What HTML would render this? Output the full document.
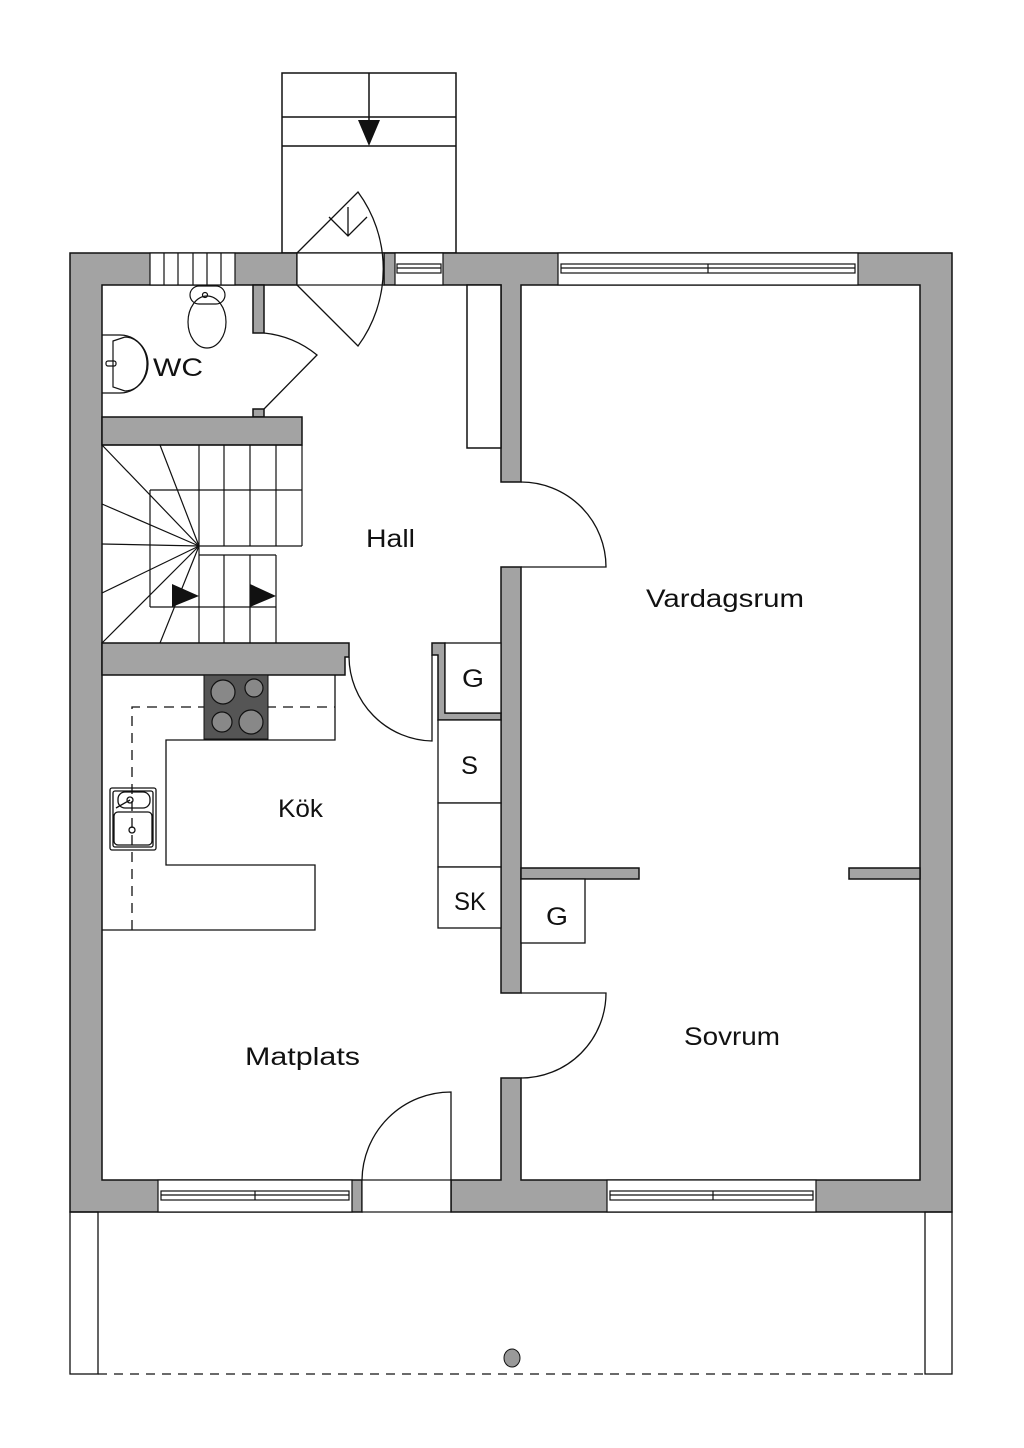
<!DOCTYPE html>
<html><head><meta charset="utf-8"><style>html,body{margin:0;padding:0;background:#fff}svg{display:block}text{font-family:"Liberation Sans",sans-serif;fill:#111}</style></head>
<body>
<svg width="1024" height="1448" viewBox="0 0 1024 1448" xmlns="http://www.w3.org/2000/svg">
<rect width="1024" height="1448" fill="#fff"/>
<g fill="none" stroke="#111" stroke-width="1.5">
<rect x="282" y="73" width="174" height="180"/>
<line x1="282" y1="117" x2="456" y2="117"/>
<line x1="282" y1="146" x2="456" y2="146"/>
<line x1="369" y1="73" x2="369" y2="120"/>
</g>
<polygon points="358,120 380,120 369,146" fill="#111"/>
<g fill="#a3a3a3" stroke="#111" stroke-width="1.5">
<path d="M70,253 H297 V285 H102 V1180 H362 V1212 H70 Z"/>
<path d="M384,253 H952 V1212 H451 V1180 H501 V1078 H521 V1180 H920 V285 H521 V482 H501 V285 H384 Z"/>
<rect x="501" y="567" width="20" height="426"/>
<rect x="253" y="285" width="11" height="48"/>
<rect x="253" y="409" width="11" height="8"/>
<path d="M102,417 H302 V445 H102 Z"/>
<path d="M102,643 H349 V657 H345 V675 H102 Z"/>
<path d="M432,643 H445 V713 H501 V720 H438 V655 H432 Z"/>
<rect x="521" y="868" width="118" height="11"/>
<rect x="849" y="868" width="71" height="11"/>
</g>
<g fill="#fff" stroke="#111" stroke-width="1.2">
<rect x="150" y="253" width="85" height="32"/>
<line x1="164" y1="253" x2="164" y2="285"/><line x1="178" y1="253" x2="178" y2="285"/><line x1="193" y1="253" x2="193" y2="285"/><line x1="207" y1="253" x2="207" y2="285"/><line x1="221" y1="253" x2="221" y2="285"/>
<rect x="395" y="253" width="48" height="32"/>
<rect x="397" y="264" width="44" height="9"/><line x1="397" y1="268" x2="441" y2="268"/>
<rect x="558" y="253" width="300" height="32"/>
<rect x="561" y="264" width="294" height="9"/><line x1="561" y1="268" x2="855" y2="268"/><line x1="708" y1="264" x2="708" y2="273"/>
<rect x="158" y="1180" width="194" height="32"/>
<rect x="161" y="1191" width="188" height="9"/><line x1="161" y1="1195" x2="349" y2="1195"/><line x1="255" y1="1191" x2="255" y2="1200"/>
<rect x="607" y="1180" width="209" height="32"/>
<rect x="610" y="1191" width="203" height="9"/><line x1="610" y1="1195" x2="813" y2="1195"/><line x1="713" y1="1191" x2="713" y2="1200"/>
<rect x="297" y="253" width="87" height="32"/>
<rect x="362" y="1180" width="89" height="32"/>
</g>
<g fill="none" stroke="#111" stroke-width="1.3">
<path d="M297,253 L358,192 A130,130 0 0 1 358,346 L297,285"/>
<path d="M329,217 L348,236 L367,217 M348,236 L348,207"/>
<path d="M264,333 A100,100 0 0 1 317,355 L264,409"/>
<path d="M521,482 A85,85 0 0 1 606,567 H521"/>
<path d="M349,657 A85,85 0 0 0 432,741 V655"/>
<path d="M521,993 H606 A85,85 0 0 1 521,1078"/>
<path d="M362,1180 A89,89 0 0 1 451,1092 V1212"/>
</g>
<g fill="none" stroke="#111" stroke-width="1.2">
<rect x="190" y="286" width="35" height="18" rx="9"/>
<ellipse cx="207" cy="322" rx="19" ry="26"/>
<path d="M102,335 H120 A28,29 0 0 1 120,393 H102"/>
<path d="M113,341 L125,337 A22,27 0 0 1 125,391 L113,387 Z"/>
<rect x="106" y="361" width="10" height="5" rx="2"/>
<circle cx="205" cy="295" r="2.5"/>
</g>
<g fill="none" stroke="#111" stroke-width="1.2">
<line x1="102" y1="445" x2="302" y2="445"/>
<line x1="150" y1="490" x2="302" y2="490"/>
<line x1="150" y1="490" x2="150" y2="607"/>
<line x1="150" y1="607" x2="276" y2="607"/>
<line x1="199" y1="445" x2="199" y2="643"/>
<line x1="224" y1="445" x2="224" y2="546"/><line x1="250" y1="445" x2="250" y2="546"/><line x1="276" y1="445" x2="276" y2="546"/><line x1="302" y1="445" x2="302" y2="546"/>
<line x1="199" y1="546" x2="302" y2="546"/>
<line x1="199" y1="555" x2="276" y2="555"/>
<line x1="276" y1="555" x2="276" y2="643"/><line x1="250" y1="555" x2="250" y2="643"/><line x1="224" y1="555" x2="224" y2="643"/>
<line x1="102" y1="445" x2="199" y2="546"/>
<line x1="160" y1="445" x2="199" y2="546"/>
<line x1="102" y1="504" x2="199" y2="546"/>
<line x1="102" y1="544" x2="199" y2="546"/>
<line x1="102" y1="593" x2="199" y2="546"/>
<line x1="102" y1="643" x2="199" y2="546"/>
<line x1="160" y1="643" x2="199" y2="546"/>
</g>
<polygon points="172,584 172,607 199,596" fill="#111"/>
<polygon points="250,584 250,607 276,596" fill="#111"/>
<rect x="467" y="285" width="34" height="163" fill="#fff" stroke="#111" stroke-width="1.5"/>
<g fill="none" stroke="#111" stroke-width="1.3">
<path d="M335,675 V740 H166 V865 H315 V930 H102"/>
<path d="M132,930 V707 H335" stroke-dasharray="10,7"/>
<rect x="110" y="788" width="46" height="62" rx="2"/>
<rect x="113" y="791" width="40" height="56" rx="2"/>
<rect x="118" y="792" width="32" height="16" rx="7"/>
<rect x="114" y="812" width="38" height="33" rx="4"/>
<circle cx="132" cy="830" r="3"/><circle cx="130" cy="800" r="3"/>
<line x1="130" y1="800" x2="116" y2="808"/>
</g>
<rect x="204" y="675" width="64" height="64" fill="#555" stroke="#111"/>
<g fill="#888" stroke="#111" stroke-width="1.2">
<circle cx="223" cy="692" r="12"/><circle cx="254" cy="688" r="9"/>
<circle cx="222" cy="722" r="10"/><circle cx="251" cy="722" r="12"/>
</g>
<g fill="#fff" stroke="#111" stroke-width="1.3">
<rect x="445" y="643" width="56" height="70"/>
<rect x="438" y="720" width="63" height="83"/>
<rect x="438" y="803" width="63" height="64"/>
<rect x="438" y="867" width="63" height="61"/>
<rect x="521" y="879" width="64" height="64"/>
</g>
<g fill="none" stroke="#111" stroke-width="1.3">
<rect x="70" y="1212" width="28" height="162"/>
<rect x="925" y="1212" width="27" height="162"/>
<line x1="98" y1="1374" x2="925" y2="1374" stroke-dasharray="9,7"/>
</g>
<ellipse cx="512" cy="1358" rx="8" ry="9" fill="#999" stroke="#111"/>
<g font-size="25">
<text x="153" y="376" textLength="50" lengthAdjust="spacingAndGlyphs">WC</text>
<text x="366" y="547" textLength="49" lengthAdjust="spacingAndGlyphs">Hall</text>
<text x="646" y="607" textLength="158" lengthAdjust="spacingAndGlyphs">Vardagsrum</text>
<text x="278" y="817" textLength="45" lengthAdjust="spacingAndGlyphs">Kök</text>
<text x="462" y="687" textLength="22" lengthAdjust="spacingAndGlyphs">G</text>
<text x="461" y="774" textLength="17" lengthAdjust="spacingAndGlyphs">S</text>
<text x="454" y="910" textLength="32" lengthAdjust="spacingAndGlyphs">SK</text>
<text x="546" y="925" textLength="22" lengthAdjust="spacingAndGlyphs">G</text>
<text x="684" y="1045" textLength="96" lengthAdjust="spacingAndGlyphs">Sovrum</text>
<text x="245" y="1065" textLength="115" lengthAdjust="spacingAndGlyphs">Matplats</text>
</g>
</svg>
</body></html>
